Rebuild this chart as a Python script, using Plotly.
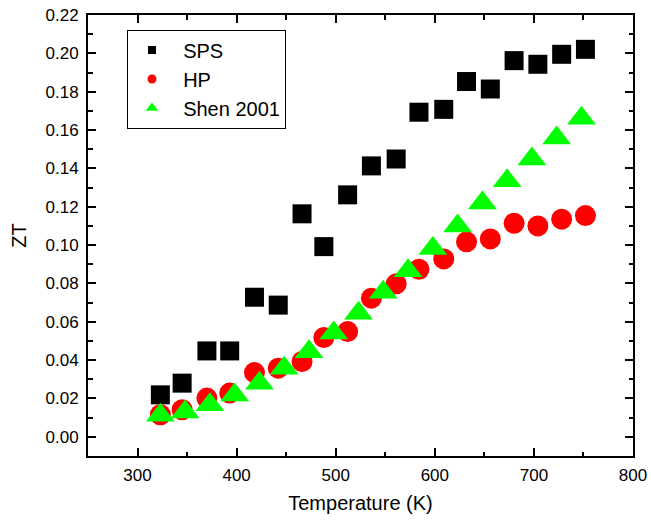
import plotly.graph_objects as go

# Data
T_sps = [323, 345, 370, 393, 418, 442, 466, 488, 512, 536, 561, 584, 609, 632, 656, 680, 704, 728, 752]
zt_sps = [0.0219, 0.0280, 0.0448, 0.0448, 0.0728, 0.0687, 0.1163, 0.0992, 0.1262, 0.1413,
          0.1449, 0.1693, 0.1708, 0.1853, 0.1814, 0.1962, 0.1943, 0.1995, 0.2021]

T_hp = [323, 345, 370, 393, 418, 442, 466, 488, 512, 536, 561, 584, 609, 632, 656, 680, 704, 728, 752]
zt_hp = [0.0115, 0.0141, 0.0202, 0.0228, 0.0335, 0.0358, 0.0393, 0.0518, 0.0549, 0.0723,
         0.0798, 0.0874, 0.0928, 0.1017, 0.1032, 0.1114, 0.1100, 0.1135, 0.1154]

T_shen = [323, 348, 373, 398, 423, 448, 473, 498, 523, 548, 573, 598, 623, 648, 673, 698, 723, 748]
zt_shen = [0.0112, 0.0130, 0.0167, 0.0218, 0.0280, 0.0358, 0.0444, 0.0541, 0.0645, 0.0754,
           0.0866, 0.0982, 0.1099, 0.1219, 0.1335, 0.1449, 0.1558, 0.1662]

names = ["SPS", "HP", "Shen 2001"]
colors = ["#000000", "#FF0000", "#00FF00"]
symbols = ["square", "circle", "triangle-up"]
sizes = [19, 21, 25]
legend_sizes = [8, 9, 11]

FONT = "Liberation Sans, Arial, sans-serif"

fig = go.Figure()
series = [(T_sps, zt_sps), (T_hp, zt_hp), (T_shen, zt_shen)]
for (xs, ys), c, s, sz in zip(series, colors, symbols, sizes):
    fig.add_trace(go.Scatter(x=xs, y=ys, mode="markers", showlegend=False,
                             marker=dict(color=c, symbol=s, size=sz, line=dict(width=0))))
# legend entries with small symbols
for n, c, s, sz in zip(names, colors, symbols, legend_sizes):
    fig.add_trace(go.Scatter(x=[None], y=[None], mode="markers", name="\u00a0\u00a0" + n,
                             marker=dict(color=c, symbol=s, size=sz, line=dict(width=0))))

axis_common = dict(
    showline=True, linecolor="black", linewidth=2, mirror="allticks",
    ticks="inside", ticklen=8, tickwidth=1.5, tickcolor="black",
    showgrid=False, zeroline=False, automargin=False, ticklabeloverflow="allow",
    tickfont=dict(family=FONT, size=17, color="black"),
)

fig.update_xaxes(range=[250, 800], dtick=100, tick0=0, ticklabelstandoff=3,
                 minor=dict(ticks="inside", ticklen=4.5, dtick=50, tickwidth=1.5, tickcolor="black"),
                 title=dict(text="Temperature (K)", font=dict(family=FONT, size=20, color="black"), standoff=12),
                 **axis_common)
fig.update_yaxes(range=[-0.01, 0.22], dtick=0.02, tick0=0, tickformat=".2f", ticklabelstandoff=4,
                 minor=dict(ticks="inside", ticklen=4.5, dtick=0.01, tickwidth=1.5, tickcolor="black"),
                 title=dict(text="ZT", font=dict(family=FONT, size=20, color="black"), standoff=14),
                 **axis_common)

# plot box at x 88-633, y 15-456 of the 651x521 page
fig.update_layout(
    width=651, height=521,
    margin=dict(l=88, r=18, t=15, b=65, autoexpand=False),
    paper_bgcolor="white", plot_bgcolor="white",
    font=dict(family=FONT, color="black"),
    legend=dict(x=0.0716, y=0.967, xanchor="left", yanchor="top",
                bgcolor="white", bordercolor="black", borderwidth=1,
                font=dict(family=FONT, size=20, color="black"),
                indentation=4, tracegroupgap=0),
)

fig.write_html("out.html", config={"displayModeBar": False},
               post_script="document.body.style.margin='0';")
